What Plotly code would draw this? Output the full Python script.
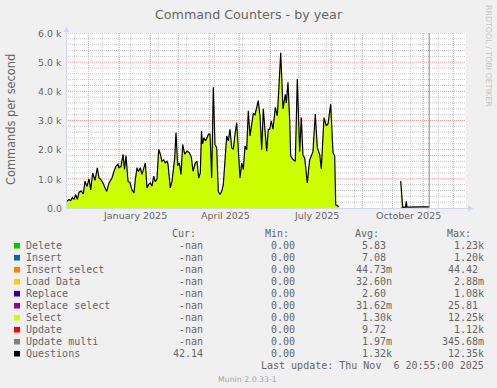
import plotly.graph_objects as go
import pandas as pd

# ---------------- data ----------------
# day offsets relative to 2025-01-01, values in commands per second
q_days = [-52.6, -50.3, -48.6, -47.0, -45.3, -43.6, -42.0, -40.3, -38.0, -36.0,
          -34.3, -32.3, -30.3, -28.6, -26.6, -24.3, -22.0, -20.3, -18.3, -16.3,
          -14.3, -12.6, -10.3, -7.3, -5.3, -3.3, -1.3, -0.3, 1.7, 3.7,
          5.2, 6.7, 8.7, 10.7, 12.7, 14.7, 16.0, 17.7, 19.2, 21.0,
          22.7, 24.2, 26.0, 27.7, 29.2, 31.0, 32.7, 34.4, 36.0, 37.7,
          39.4, 41.0, 42.7, 44.4, 46.0, 47.7, 48.7, 51.0, 52.7, 55.4,
          56.7, 58.4, 60.0, 61.7, 63.4, 65.4, 67.7, 70.0, 72.0, 73.7,
          76.0, 77.7, 79.4, 81.0, 82.2, 83.2, 84.7, 86.2, 87.7, 89.2,
          90.7, 92.4, 94.0, 95.7, 97.4, 99.0, 100.7, 102.4, 104.0, 105.7,
          107.4, 109.0, 110.7, 112.4, 114.0, 115.7, 117.4, 119.0, 120.7, 122.4,
          124.0, 125.7, 127.4, 129.0, 130.7, 132.4, 134.0, 135.7, 137.4, 139.0,
          140.7, 142.4, 144.0, 145.7, 147.4, 149.0, 150.4, 152.0, 153.7, 156.0,
          158.0, 159.7, 161.4, 163.7, 166.0, 167.0, 168.7, 170.4, 171.4, 173.7,
          176.0, 178.0, 180.4, 182.0, 183.7, 185.4, 188.0, 189.4, 190.4, 192.0,
          193.7, 196.0, 198.0, 200.4, 202.0, 204.7, 207.0, 208.7, 211.4, 213.7,
          215.4, 216.4, 218.7, 219.7, 250.0,
          281.4, 283.4, 286.2, 287.0, 287.7, 292.0, 300.0, 309.9]
questions = [230, 290, 250, 360, 300, 460, 300, 540, 580, 480,
             920, 740, 1000, 620, 1200, 950, 1380, 1030, 970, 860,
             690, 570, 860, 1030, 1260, 1430, 1500, 1380, 1430, 1840,
             1320, 1800, 920, 860, 620, 520, 970, 1380, 1250, 1380,
             1150, 1300, 1550, 690, 800, 860, 750, 1090, 900, 1000,
             2010, 1850, 1600, 1650, 1550, 1600, 1500, 690, 920, 1700,
             2590, 1450, 1550, 1150, 2180, 1850, 1950, 1900, 1750, 1260,
             1550, 1600, 1030, 1200, 2640, 2200, 2410, 2300, 2410, 2530,
             2530, 1030, 4140, 2180, 2070, 570, 460, 570, 800, 1610,
             2470, 2300, 2700, 2070, 2010, 2530, 2930, 2010, 1030, 1550,
             1320, 2130, 2000, 3330, 2470, 2870, 3240, 3200, 3400, 3680,
             3160, 2000, 3400, 2500, 1950, 2700, 2700, 2990, 2700, 3450,
             3160, 4200, 5320, 3400, 3900, 3600, 4310, 3000, 1780, 1660,
             1600, 4420, 1930, 3100, 1800, 1720, 860, 1350, 1660, 1780,
             1950, 3220, 2070, 1840, 1350, 3100, 2820, 2880, 3560, 1900,
             1780, 110, 50, 40, None,
             920, 30, 30, 230, 30, 40, 40, 42]
select = questions  # Select area sits right under the Questions line
delete_days = [281.4, 283.4, 287.7]
delete_vals = [25, 25, 25]
now_day = 309.9

legend_labels = ["Delete", "Insert", "Insert select", "Load Data", "Replace",
                 "Replace select", "Select", "Update", "Update multi", "Questions"]
legend_colors = ["#00CC00", "#0066B3", "#FF8000", "#FFCC00", "#330099",
                 "#990099", "#CCFF00", "#FF0000", "#808080", "#000000"]
cur_vals = ["-nan"] * 9 + ["42.14"]
min_vals = ["0.00"] * 10
avg_vals = ["5.83", "7.08", "44.73m", "32.60n", "2.60", "31.62m", "1.30k",
            "9.72", "1.97m", "1.32k"]
max_vals = ["1.23k", "1.20k", "44.42", "2.88m", "1.08k", "25.81", "12.25k",
            "1.12k", "345.68m", "12.35k"]
y_tick_vals = [0, 1000, 2000, 3000, 4000, 5000, 6000]
y_tick_text = ["0.0", "1.0 k", "2.0 k", "3.0 k", "4.0 k", "5.0 k", "6.0 k"]
x_label_months = ["2025-01-01", "2025-04-01", "2025-07-01", "2025-10-01"]
x_label_text = ["January 2025", "April 2025", "July 2025", "October 2025"]
month_starts = ["2024-12-01", "2025-01-01", "2025-02-01", "2025-03-01", "2025-04-01",
                "2025-05-01", "2025-06-01", "2025-07-01", "2025-08-01", "2025-09-01",
                "2025-10-01", "2025-11-01", "2025-12-01"]
week_lines = ["2024-11-17", "2024-12-15", "2025-01-12", "2025-02-09", "2025-03-09",
              "2025-04-06", "2025-05-04", "2025-06-01", "2025-06-29", "2025-07-27",
              "2025-08-24", "2025-09-21", "2025-10-19", "2025-11-16"]

# ---------------- layout geometry ----------------
W, H = 497, 388
L, R, T, B = 66, 31, 33, 180
PW, PH = W - L - R, H - T - B
base = pd.Timestamp("2025-01-01")


def to_date(d):
    return None if d is None else base + pd.Timedelta(days=d)


def px(xp):
    return (xp - L) / PW


def py(yp):
    return (T + PH - yp) / PH


def segments(days, vals):
    seg_d, seg_v, out = [], [], []
    for d, v in zip(days, vals):
        if v is None:
            if seg_d:
                out.append((seg_d, seg_v))
            seg_d, seg_v = [], []
        else:
            seg_d.append(to_date(d))
            seg_v.append(v)
    if seg_d:
        out.append((seg_d, seg_v))
    return out


x0 = base - pd.Timedelta(days=53.3)
x1 = x0 + pd.Timedelta(days=400)

fig = go.Figure()
for sd, sv in segments(q_days, select):
    fig.add_trace(go.Scatter(x=sd, y=sv, mode="lines", fill="tozeroy",
                             fillcolor="#CCFF00", line=dict(width=0, color="#CCFF00"),
                             hoverinfo="skip", showlegend=False))
fig.add_trace(go.Scatter(x=[to_date(d) for d in delete_days], y=delete_vals, mode="lines",
                         fill="tozeroy", fillcolor="#00CC00", line=dict(width=0),
                         hoverinfo="skip", showlegend=False))
for sd, sv in segments(q_days, questions):
    fig.add_trace(go.Scatter(x=sd, y=sv, mode="lines",
                             line=dict(width=1.2, color="#000000"),
                             hoverinfo="skip", showlegend=False))

shapes = []
GRID = "#C8C8C8"
MGRID = "#F49C9C"
DASH = "1px,1px"
# horizontal grid
for v in range(200, 6001, 200):
    shapes.append(dict(type="line", xref="paper", yref="y", x0=0, x1=1, y0=v, y1=v,
                       layer="below",
                       line=dict(color=MGRID if v % 1000 == 0 else GRID, width=1, dash=DASH)))
# vertical grid
for d in week_lines:
    shapes.append(dict(type="line", xref="x", yref="paper", x0=d, x1=d, y0=0, y1=1,
                       layer="below", line=dict(color=GRID, width=1, dash=DASH)))
for d in month_starts:
    shapes.append(dict(type="line", xref="x", yref="paper", x0=d, x1=d, y0=0, y1=1,
                       layer="below", line=dict(color=MGRID, width=1, dash=DASH)))
# "now" line
shapes.append(dict(type="line", xref="x", yref="paper", x0=to_date(now_day), x1=to_date(now_day),
                   y0=0, y1=1, layer="above", line=dict(color="#8A8A8A", width=1)))
# axes with arrows
AX = "#CFD6F8"
shapes.append(dict(type="line", xref="paper", yref="paper", x0=px(66.5), x1=px(66.5),
                   y0=py(208.5), y1=py(30), line=dict(color=AX, width=1), layer="above"))
shapes.append(dict(type="line", xref="paper", yref="paper", x0=px(66), x1=px(469),
                   y0=py(208.5), y1=py(208.5), line=dict(color=AX, width=1), layer="above"))
shapes.append(dict(type="path", xref="paper", yref="paper",
                   path=f"M {px(66.5)} {py(26.5)} L {px(63.5)} {py(32)} L {px(69.5)} {py(32)} Z",
                   fillcolor=AX, line=dict(width=0), layer="above"))
shapes.append(dict(type="path", xref="paper", yref="paper",
                   path=f"M {px(473.5)} {py(208.5)} L {px(468)} {py(205.5)} L {px(468)} {py(211.5)} Z",
                   fillcolor=AX, line=dict(width=0), layer="above"))

FONT = "#666666"
SANS = "DejaVu Sans"
MONO = "DejaVu Sans Mono"
ann = []


def add_text(text, xp, yp, size, family=SANS, color=FONT, xanchor="center", yanchor="middle",
             angle=0):
    ann.append(dict(text=text, x=px(xp), y=py(yp), xref="paper", yref="paper",
                    showarrow=False, xanchor=xanchor, yanchor=yanchor, textangle=angle,
                    borderpad=0, borderwidth=0,
                    font=dict(family=family, size=size, color=color)))


add_text("Command Counters - by year", 248.5, 14, 12.7)
add_text("Commands per second", 11, 119, 11.4, angle=-90)
add_text("RRDTOOL / TOBI OETIKER", 489, 56, 7.9, color="#C4C4C4", angle=90)

for v, t in zip(y_tick_vals, y_tick_text):
    add_text(t, 61.5, 208.3 - v * PH / 6000, 9.4, xanchor="right")

for m, t in zip(x_label_months, x_label_text):
    d = (pd.Timestamp(m) - base).days + 16
    add_text(t, 119.3 + d, 215.5, 9.5)

# legend
LF = 10
add_text("Cur:", 172.2, 233.5, LF, MONO, xanchor="left")
add_text("Min:", 264.5, 233.5, LF, MONO, xanchor="left")
add_text("Avg:", 354.5, 233.5, LF, MONO, xanchor="left")
add_text("Max:", 446.8, 233.5, LF, MONO, xanchor="left")


def col_x(val, edge):
    return edge + 6.0 if val[-1].isalpha() and val != "-nan" else edge


for i, (lab, col) in enumerate(zip(legend_labels, legend_colors)):
    yc = 245.7 + 12 * i
    shapes.append(dict(type="rect", xref="paper", yref="paper", x0=px(14), x1=px(20),
                       y0=py(yc + 2.8), y1=py(yc - 2.8), fillcolor=col, line=dict(width=0),
                       layer="above"))
    add_text(lab, 26.2, yc, LF, MONO, xanchor="left")
    add_text(cur_vals[i], 202.8, yc, LF, MONO, xanchor="right")
    add_text(min_vals[i], 294.5, yc, LF, MONO, xanchor="right")
    add_text(avg_vals[i], col_x(avg_vals[i], 386.0), yc, LF, MONO, xanchor="right")
    add_text(max_vals[i], col_x(max_vals[i], 477.8), yc, LF, MONO, xanchor="right")

add_text("Last update: Thu Nov \u00a06 20:55:00 2025", 483.8, 365.7, LF, MONO, xanchor="right")
add_text("Munin 2.0.33-1", 247.5, 379.5, 7.8, color="#A8A8A8")

fig.update_layout(
    width=W, height=H,
    margin=dict(l=L, r=R, t=T, b=B, pad=0),
    paper_bgcolor="#F0F0F0", plot_bgcolor="#FFFFFF",
    showlegend=False,
    xaxis=dict(range=[x0, x1], showgrid=False, zeroline=False, showticklabels=False,
               showline=False, ticks="", fixedrange=True),
    yaxis=dict(range=[0, 6000], showgrid=False, zeroline=False, showticklabels=False,
               showline=False, ticks="", fixedrange=True),
    shapes=shapes, annotations=ann,
)

fig.write_html("out.html", config={"displayModeBar": False},
               post_script="document.body.style.margin='0';document.body.style.overflow='hidden';")
